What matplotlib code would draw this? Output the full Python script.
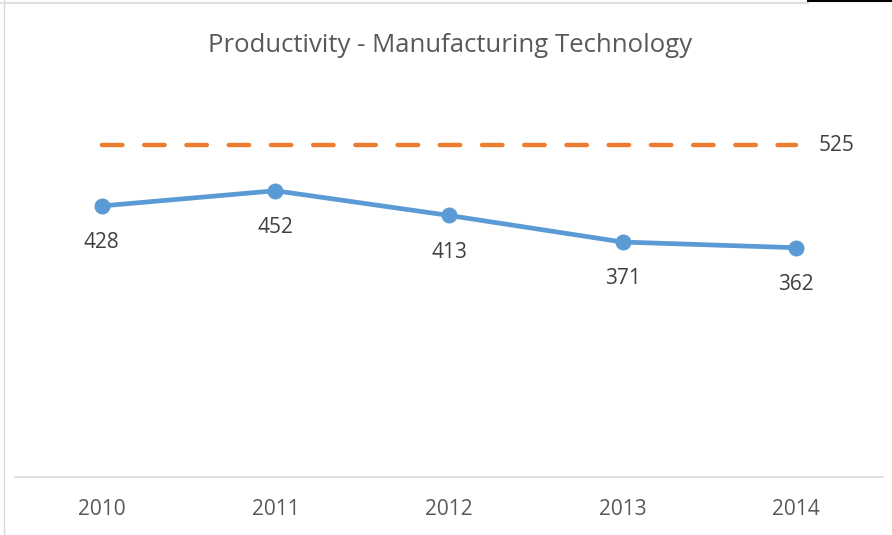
import matplotlib.pyplot as plt

# Chart data
YEARS = ["2010", "2011", "2012", "2013", "2014"]
PRODUCTIVITY = [428, 452, 413, 371, 362]
TARGET = [525, 525, 525, 525, 525]

COLORS = {
    "BLUE": "#5B9BD5",
    "ORANGE": "#ED7D31",
    "TEXT": "#595959",
    "LABEL": "#404040",
    "AXIS": "#D9D9D9",
}


def main():
    plt.rcParams["font.family"] = ["Open Sans", "DejaVu Sans"]

    fig = plt.figure(figsize=(8.92, 5.35), dpi=100)
    ax = fig.add_axes([15 / 892, 58 / 535, 868 / 892, 380 / 535])

    x = list(range(len(YEARS)))

    # Target line (dashed)
    ax.plot(x, TARGET, color=COLORS["ORANGE"], linewidth=3.2,
            dashes=(4.6, 4.9), dash_capstyle="round", zorder=2)
    ax.annotate(str(TARGET[-1]), (x[-1], TARGET[-1]), xytext=(16.5, -1),
                textcoords="offset points", ha="left", va="center",
                fontsize=15, color=COLORS["LABEL"])

    # Productivity line
    ax.plot(x, PRODUCTIVITY, color=COLORS["BLUE"], linewidth=3.4,
            marker="o", markersize=10.5, solid_capstyle="round", zorder=3)
    for xi, val in zip(x, PRODUCTIVITY):
        ax.annotate(str(val), (xi, val), xytext=(0, -26.5),
                    textcoords="offset points", ha="center", va="center",
                    fontsize=15, color=COLORS["LABEL"])

    # Axes styling
    ax.set_xlim(-0.5, len(YEARS) - 0.5)
    ax.set_ylim(0, 600)
    ax.set_yticks([])
    ax.set_xticks(x, labels=YEARS)
    ax.tick_params(axis="x", length=0, pad=16, labelsize=15, labelcolor=COLORS["TEXT"])
    for side in ["top", "right", "left"]:
        ax.spines[side].set_visible(False)
    ax.spines["bottom"].set_color(COLORS["AXIS"])
    ax.spines["bottom"].set_linewidth(1.2)

    fig.text(450 / 892, 1 - 45 / 535, "Productivity - Manufacturing Technology",
             ha="center", va="center", fontsize=18.5, color=COLORS["TEXT"])

    # Outer frame remnants
    fig.add_artist(plt.Line2D([4 / 892, 4 / 892], [0, 1], color="#D9D9D9", linewidth=1))
    fig.add_artist(plt.Line2D([0, 808 / 892], [1 - 2.5 / 535, 1 - 2.5 / 535], color="#E0E0E0", linewidth=1.5))
    fig.add_artist(plt.Line2D([808 / 892, 1], [1 - 0.5 / 535, 1 - 0.5 / 535], color="black", linewidth=1.5))

    fig.savefig("out.png", dpi=100)


if __name__ == "__main__":
    main()
